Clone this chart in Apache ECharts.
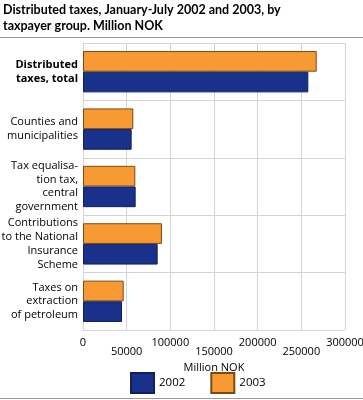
<!DOCTYPE html>
<html><head><meta charset="utf-8">
<script src="https://cdn.jsdelivr.net/npm/echarts@6/dist/echarts.min.js"></script>
<style>html,body{margin:0;padding:0;background:#fff}#c{width:363px;height:400px}</style>
</head><body><div id="c"></div>
<script>
const categories = ['Distributed\ntaxes, total', 'Counties and\nmunicipalities', 'Tax equalisa-\ntion tax,\ncentral\ngovernment', 'Contributions\nto the National\nInsurance\nScheme', 'Taxes on\nextraction\nof petroleum'];
const values2002 = [258000, 55700, 60300, 85500, 44700];
const values2003 = [267600, 57600, 59900, 90400, 46600];
const xTicks = [0, 50000, 100000, 150000, 200000, 250000, 300000];
const FONT = '"Open Sans", sans-serif';
const chart = echarts.init(document.getElementById('c'), null, {renderer: 'canvas'});
chart.setOption({
  animation: false,
  textStyle: {fontFamily: FONT},
  title: {
    text: 'Distributed taxes, January-July 2002 and 2003, by\ntaxpayer group. Million NOK',
    left: 3, top: 2, padding: 0,
    textStyle: {fontSize: 12.5, fontWeight: 'bold', color: '#000', lineHeight: 16, fontFamily: 'Lato, sans-serif'}
  },
  graphic: [
    {type: 'line', shape: {x1: 0, y1: 37.5, x2: 363, y2: 37.5}, style: {stroke: '#999', lineWidth: 1}},
    {type: 'line', shape: {x1: 0, y1: 398.5, x2: 363, y2: 398.5}, style: {stroke: '#999', lineWidth: 1}}
  ],
  legend: {
    data: ['2002', '2003'],
    bottom: 6, left: 130, padding: 0,
    icon: 'rect',
    itemWidth: 23, itemHeight: 20, itemGap: 25,
    textStyle: {fontSize: 11.5, color: '#000', fontFamily: FONT}
  },
  grid: {left: 83, right: 18, top: 43, bottom: 70, outerBoundsMode: 'none', containLabel: false},
  xAxis: {
    type: 'value', min: 0, max: 300000, interval: 50000,
    name: 'Million NOK', nameLocation: 'middle', nameGap: 24,
    nameTextStyle: {fontSize: 11, color: '#000'},
    axisLine: {show: false}, axisTick: {show: false},
    splitLine: {show: true, lineStyle: {color: '#d4d4d4', width: 1}},
    axisLabel: {
      fontSize: 11, color: '#000', margin: 8, lineHeight: 9, hideOverlap: false,
      formatter: function (v) { const i = xTicks.indexOf(v); return (i % 2 === 1) ? '\n' + v : String(v); }
    }
  },
  yAxis: {
    type: 'category', data: categories, inverse: true,
    axisLine: {show: true, lineStyle: {color: '#d4d4d4'}}, axisTick: {show: false},
    splitLine: {show: true, lineStyle: {color: '#d4d4d4', width: 1}},
    axisLabel: {
      fontSize: 11, color: '#000', lineHeight: 13.7, margin: 5,
      formatter: function (v, i) { return i === 0 ? '{b|' + v + '}' : v; },
      rich: {b: {fontWeight: 'bold', fontSize: 11, lineHeight: 13.7, color: '#000'}}
    }
  },
  series: [
    {name: '2003', type: 'bar', data: values2003, barCategoryGap: '28%', barGap: '0%',
     itemStyle: {color: '#f79a33', borderColor: '#7a4a14', borderWidth: 1}},
    {name: '2002', type: 'bar', data: values2002, barCategoryGap: '28%', barGap: '0%',
     itemStyle: {color: '#1a318c', borderColor: '#10205a', borderWidth: 1}}
  ]
});
</script></body></html>
